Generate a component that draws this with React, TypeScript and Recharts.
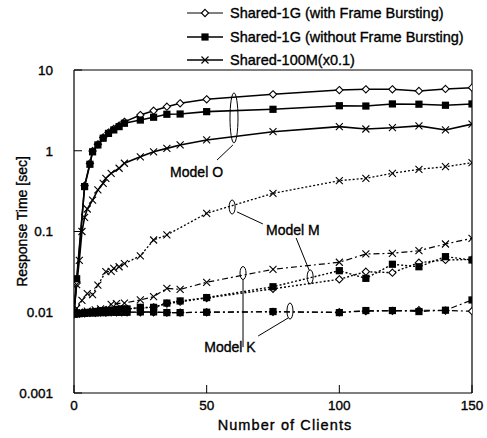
import React from 'react';
import { LineChart, Line, XAxis, YAxis, ReferenceLine, ReferenceDot, Label } from 'recharts';

// ---------- data ----------
const clientTicks = [0, 50, 100, 150];
const responseTicks = [0.001, 0.01, 0.1, 1, 10];
const responseTickLabels = ['0.001', '0.01', '0.1', '1', '10'];

// Model O (solid)
const oFbClients = [0, 1, 4, 6, 7, 9, 11, 13, 15, 17, 19, 25, 30, 35, 40, 50, 75, 100, 110, 120, 130, 140, 150];
const oFbResp = [0.01, 0.023, 0.37, 0.7, 0.99, 1.2, 1.46, 1.68, 1.86, 2.05, 2.28, 2.77, 3.13, 3.51, 3.87, 4.34, 5.0, 5.65, 5.77, 5.77, 5.5, 5.83, 6.04];
const oNoFbClients = [0, 1, 4, 6, 7, 9, 11, 13, 15, 17, 19, 25, 30, 35, 40, 50, 75, 100, 110, 120, 130, 140, 150];
const oNoFbResp = [0.01, 0.026, 0.36, 0.68, 0.97, 1.18, 1.43, 1.64, 1.81, 1.99, 2.19, 2.4, 2.6, 2.83, 2.85, 3.05, 3.26, 3.61, 3.58, 3.8, 3.77, 3.66, 3.8];
const oHmClients = [0, 1, 2, 3, 4, 5, 7, 9, 11, 12, 14, 17, 19, 25, 30, 35, 40, 50, 75, 100, 110, 120, 130, 140, 150];
const oHmResp = [0.01, 0.022, 0.044, 0.1, 0.15, 0.19, 0.245, 0.327, 0.395, 0.456, 0.526, 0.607, 0.7, 0.84, 0.97, 1.07, 1.18, 1.36, 1.72, 1.99, 1.86, 1.93, 2.03, 1.81, 2.14];

// Model M (dotted)
const mHmClients = [0, 1, 3, 5, 7, 9, 12, 14, 15, 17, 19, 25, 30, 35, 50, 75, 100, 110, 120, 130, 140, 150];
const mHmResp = [0.01, 0.0112, 0.014, 0.017, 0.0165, 0.0217, 0.0318, 0.032, 0.035, 0.0366, 0.04, 0.05, 0.0785, 0.0906, 0.168, 0.297, 0.426, 0.456, 0.526, 0.589, 0.634, 0.711];
const mNoFbClients = [0, 2, 4, 6, 8, 10, 12, 14, 16, 18, 20, 25, 30, 35, 40, 50, 75, 100, 110, 120, 130, 140, 150];
const mNoFbResp = [0.0095, 0.0097, 0.0098, 0.01, 0.0102, 0.0104, 0.0105, 0.0106, 0.0108, 0.011, 0.011, 0.0115, 0.0115, 0.013, 0.0138, 0.0152, 0.0207, 0.0327, 0.0263, 0.0393, 0.0366, 0.0488, 0.0444];
const mFbClients = [0, 2, 4, 6, 8, 10, 12, 14, 16, 18, 20, 25, 30, 35, 40, 50, 75, 100, 110, 120, 130, 140, 150];
const mFbResp = [0.0095, 0.0097, 0.0098, 0.01, 0.0101, 0.0103, 0.0104, 0.0105, 0.0107, 0.0108, 0.011, 0.0113, 0.0115, 0.0128, 0.0135, 0.015, 0.0195, 0.0256, 0.0318, 0.0309, 0.0411, 0.0444, 0.045];

// Model K (dash-dot)
const kHmClients = [0, 2, 5, 8, 10, 14, 16, 19, 25, 30, 35, 40, 50, 75, 100, 110, 120, 130, 140, 150];
const kHmResp = [0.0095, 0.01, 0.0103, 0.0107, 0.011, 0.0125, 0.0128, 0.013, 0.0142, 0.0156, 0.0198, 0.0192, 0.0235, 0.034, 0.0416, 0.0527, 0.0537, 0.0578, 0.07, 0.0824];
const kNoFbClients = [0, 2, 4, 6, 8, 10, 12, 14, 16, 18, 20, 25, 30, 35, 40, 50, 75, 100, 110, 120, 130, 140, 150];
const kNoFbResp = [0.0095, 0.0096, 0.0097, 0.0098, 0.0098, 0.0099, 0.0099, 0.01, 0.01, 0.01, 0.01, 0.0101, 0.0101, 0.0099, 0.0099, 0.01, 0.0102, 0.0099, 0.0105, 0.0105, 0.0102, 0.0106, 0.0142];
const kFbClients = [0, 2, 4, 6, 8, 10, 12, 14, 16, 18, 20, 25, 30, 35, 40, 50, 75, 100, 110, 120, 130, 140, 150];
const kFbResp = [0.0095, 0.0096, 0.0097, 0.0098, 0.0098, 0.0099, 0.0099, 0.01, 0.01, 0.01, 0.01, 0.01, 0.01, 0.0099, 0.0099, 0.01, 0.0101, 0.01, 0.0103, 0.0104, 0.0106, 0.0105, 0.0103];

const legendNames = ['Shared-1G (with Frame Bursting)', 'Shared-1G (without Frame Bursting)', 'Shared-100M(x0.1)'];

// annotations (data coordinates)
const modelNotes = [
  { text: 'Model O', x: 46.2, y: 0.551 },
  { text: 'Model M', x: 82.5, y: 0.1045 },
  { text: 'Model K', x: 58.8, y: 0.00374 },
];
const ellipseNotes = [
  { x: 60.3, y: 2.55, rx: 4, ry: 25 },
  { x: 59.6, y: 0.201, rx: 3, ry: 7 },
  { x: 89, y: 0.0274, rx: 3, ry: 7 },
  { x: 63.7, y: 0.0306, rx: 3, ry: 6.5 },
  { x: 81.4, y: 0.01035, rx: 3, ry: 8 },
];
const leaderNotes = [
  [{ x: 59.9, y: 1.18 }, { x: 53.9, y: 0.767 }],
  [{ x: 61.4, y: 0.175 }, { x: 71.2, y: 0.124 }],
  [{ x: 83.7, y: 0.0832 }, { x: 88.6, y: 0.0333 }],
  [{ x: 63.7, y: 0.0251 }, { x: 63.7, y: 0.0037 }],
  [{ x: 80.7, y: 0.00849 }, { x: 69.4, y: 0.00508 }],
];

// ---------- helpers ----------
const FONT = '"Liberation Sans", Arial, Helvetica, sans-serif';
const TEXT_STROKE = 0.35;
const toPoints = (xs: number[], ys: number[]) => xs.map((x, i) => ({ x, y: ys[i] }));

const renderDiamond = (p: any) => {
  const { cx, cy, index } = p;
  if (cx == null || cy == null) return <g key={`d-${index}`} />;
  const s = 3.6;
  return (
    <path key={`d-${index}`} d={`M${cx},${cy - s}L${cx + s},${cy}L${cx},${cy + s}L${cx - s},${cy}Z`} fill="#fff" stroke="#000" strokeWidth={1.1} />
  );
};
const renderSquare = (p: any) => {
  const { cx, cy, index } = p;
  if (cx == null || cy == null) return <g key={`s-${index}`} />;
  const s = 3.6;
  return <rect key={`s-${index}`} x={cx - s} y={cy - s} width={2 * s} height={2 * s} fill="#000" />;
};
const renderCross = (p: any) => {
  const { cx, cy, index } = p;
  if (cx == null || cy == null) return <g key={`c-${index}`} />;
  const s = 3.5;
  return (
    <path key={`c-${index}`} d={`M${cx - s},${cy - s}L${cx + s},${cy + s}M${cx - s},${cy + s}L${cx + s},${cy - s}`} stroke="#000" strokeWidth={1.1} fill="none" />
  );
};

const SOLID = undefined;
const DOTTED = '2 2';
const DASHDOT = '6 3 2 3';

const series = [
  { id: 'kFb', data: toPoints(kFbClients, kFbResp), dot: renderDiamond, dash: DASHDOT, w: 1.2 },
  { id: 'kNoFb', data: toPoints(kNoFbClients, kNoFbResp), dot: renderSquare, dash: DASHDOT, w: 1.2 },
  { id: 'kHm', data: toPoints(kHmClients, kHmResp), dot: renderCross, dash: DASHDOT, w: 1.2 },
  { id: 'mFb', data: toPoints(mFbClients, mFbResp), dot: renderDiamond, dash: DOTTED, w: 1.4 },
  { id: 'mNoFb', data: toPoints(mNoFbClients, mNoFbResp), dot: renderSquare, dash: DOTTED, w: 1.4 },
  { id: 'mHm', data: toPoints(mHmClients, mHmResp), dot: renderCross, dash: DOTTED, w: 1.3 },
  { id: 'oFb', data: toPoints(oFbClients, oFbResp), dot: renderDiamond, dash: SOLID, w: 1.5 },
  { id: 'oNoFb', data: toPoints(oNoFbClients, oNoFbResp), dot: renderSquare, dash: SOLID, w: 1.6 },
  { id: 'oHm', data: toPoints(oHmClients, oHmResp), dot: renderCross, dash: SOLID, w: 1.6 },
];

const tickLabel = (v: number) => {
  const i = responseTicks.indexOf(v);
  return i >= 0 ? responseTickLabels[i] : String(v);
};

const LegendOverlay = () => {
  const markers = [renderDiamond, renderSquare, renderCross];
  const rows = [13, 37, 60];
  return (
    <svg width={487} height={70} style={{ position: 'absolute', left: 0, top: 0 }}>
      {legendNames.map((name, i) => (
        <g key={name}>
          <line x1={187} x2={223} y1={rows[i]} y2={rows[i]} stroke="#000" strokeWidth={i === 0 ? 1 : 1.4} />
          {markers[i]({ cx: 205, cy: rows[i], index: 100 + i })}
          <text x={230} y={rows[i]} dominantBaseline="central" fontFamily={FONT} fontSize={14.5} fill="#000" stroke="#000" strokeWidth={TEXT_STROKE}>
            {name}
          </text>
        </g>
      ))}
    </svg>
  );
};

const tickStyle = { fill: '#000', fontSize: 13.5, fontFamily: FONT, stroke: '#000', strokeWidth: TEXT_STROKE };

export default function App() {
  return (
    <div style={{ position: 'absolute', left: 0, top: 0, width: 487, height: 438, background: '#fff', fontFamily: FONT }}>
      <LineChart width={487} height={438} margin={{ top: 70, right: 15, bottom: 0, left: 0 }}>
        <XAxis
          type="number"
          dataKey="x"
          domain={[0, 150]}
          ticks={clientTicks}
          allowDataOverflow
          height={45}
          tickSize={-8}
          tickMargin={15}
          axisLine={{ stroke: '#000', strokeWidth: 1.2 }}
          tickLine={{ stroke: '#000', strokeWidth: 1 }}
          tick={tickStyle}
        >
          <Label
            content={(props: any) => {
              const vb = props.viewBox || { x: 74, y: 393, width: 398, height: 45 };
              return (
                <text x={vb.x + vb.width / 2 + 12} y={vb.y + 37} textAnchor="middle" fontFamily={FONT} fontSize={14.5} letterSpacing={1.1} fill="#000" stroke="#000" strokeWidth={TEXT_STROKE}>
                  Number of Clients
                </text>
              );
            }}
          />
        </XAxis>
        <YAxis
          type="number"
          scale="log"
          domain={[0.001, 10]}
          ticks={responseTicks}
          allowDataOverflow
          width={74}
          tickSize={-8}
          tickMargin={29}
          tickFormatter={tickLabel}
          axisLine={{ stroke: '#000', strokeWidth: 1.2 }}
          tickLine={{ stroke: '#000', strokeWidth: 1 }}
          tick={tickStyle}
        >
          <Label
            content={(props: any) => {
              const vb = props.viewBox || { x: 0, y: 70, width: 74, height: 323 };
              const cx = vb.x + 22;
              const cy = vb.y + vb.height / 2 - 10;
              return (
                <text x={cx} y={cy} transform={`rotate(-90, ${cx}, ${cy})`} textAnchor="middle" dominantBaseline="central" fontFamily={FONT} fontSize={14} fill="#000" stroke="#000" strokeWidth={TEXT_STROKE}>
                  Response Time [sec]
                </text>
              );
            }}
          />
        </YAxis>
        <ReferenceLine y={10} stroke="#000" strokeWidth={1.2} ifOverflow="visible" />
        <ReferenceLine x={150} stroke="#000" strokeWidth={1.2} ifOverflow="visible" />
        {series.map((s) => (
          <Line
            key={s.id}
            data={s.data}
            dataKey="y"
            type="linear"
            stroke="#000"
            strokeWidth={s.w}
            strokeDasharray={s.dash}
            dot={s.dot}
            activeDot={false}
            isAnimationActive={false}
          />
        ))}
        {leaderNotes.map((seg, i) => (
          <ReferenceLine key={`ld-${i}`} segment={seg} stroke="#000" strokeWidth={1} ifOverflow="visible" />
        ))}
        {ellipseNotes.map((e, i) => (
          <ReferenceDot
            key={`el-${i}`}
            x={e.x}
            y={e.y}
            r={3}
            ifOverflow="visible"
            shape={(p: any) => <ellipse cx={p.cx} cy={p.cy} rx={e.rx} ry={e.ry} fill="#fff" fillOpacity={0} stroke="#000" strokeWidth={1} />}
          />
        ))}
        {modelNotes.map((m, i) => (
          <ReferenceDot
            key={`mn-${i}`}
            x={m.x}
            y={m.y}
            r={1}
            ifOverflow="visible"
            shape={(p: any) => (
              <text x={p.cx} y={p.cy} textAnchor="middle" dominantBaseline="central" fontFamily={FONT} fontSize={14} fill="#000" stroke="#000" strokeWidth={TEXT_STROKE}>
                {m.text}
              </text>
            )}
          />
        ))}
      </LineChart>
      <LegendOverlay />
    </div>
  );
}
